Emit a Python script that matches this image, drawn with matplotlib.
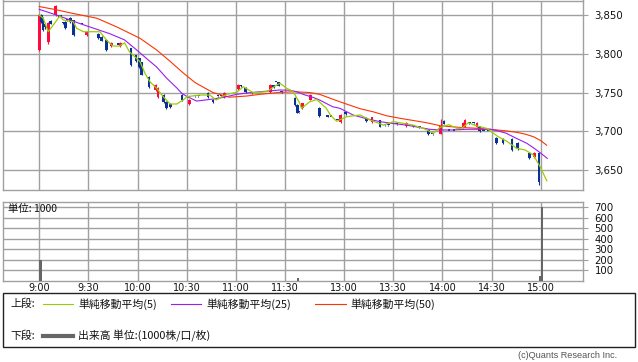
import matplotlib
matplotlib.use("Agg")
import matplotlib.pyplot as plt
from matplotlib.lines import Line2D
from matplotlib.patches import Rectangle
import numpy as np

plt.rcParams['font.family'] = ['DejaVu Sans', 'Noto Sans CJK JP']
JP = ['Noto Sans CJK JP', 'DejaVu Sans']

# ---- data (x = trading-minute index from 9:00, afternoon session starts at 156) ----
tick_pos = [0, 30, 60, 90, 120, 150, 186, 216, 246, 276, 306]
tick_labels = ["9:00", "9:30", "10:00", "10:30", "11:00", "11:30",
               "13:00", "13:30", "14:00", "14:30", "15:00"]

candle_m = [0, 1.2, 2.4, 3.6, 5.5, 7, 10, 11.5, 13, 14.5, 16, 17, 19, 21, 26, 29, 36, 38, 41, 44,
            48, 49.5, 56, 59, 61, 62.5, 67, 71, 72.5, 76, 77.5, 80, 87, 91.5, 95, 97, 103, 106, 109, 111,
            113, 121.5, 123, 126, 130, 141, 143, 144.5, 146, 148, 156, 157.5, 158.5, 160.5, 165.5, 171,
            176, 178, 182, 184, 187, 199.5, 203, 208, 211, 213, 218, 224, 228, 232, 237.5, 240, 245,
            247, 250, 253, 258.5, 259.7, 262.5, 265, 267, 268.7, 271, 274, 279, 283, 288.5, 292, 299,
            302, 305]
candle_o = [3805, 3850, 3846, 3838, 3815, 3842, 3850, 3849, 3849, 3840, 3841, 3843, 3846, 3843, 3839, 3824,
            3826, 3822, 3818, 3810, 3812, 3810, 3807, 3798, 3794, 3789, 3770, 3753, 3744, 3747, 3738, 3735,
            3747, 3735, 3745, 3745, 3750, 3741, 3745, 3745, 3744, 3754, 3760, 3756, 3749, 3751, 3760, 3764,
            3763, 3752, 3743, 3734, 3725, 3730, 3741, 3730, 3720, 3719, 3714.5, 3712, 3725, 3717, 3712, 3714,
            3708, 3708, 3709, 3707, 3707, 3705, 3702, 3696, 3697, 3713, 3701, 3701, 3705, 3706, 3711, 3711,
            3706, 3706, 3701, 3701, 3691, 3690, 3690, 3685, 3672, 3667, 3672]
candle_h = [3852, 3851, 3847, 3840, 3841, 3843, 3863, 3850, 3849, 3841, 3842, 3843, 3847, 3844, 3840, 3829,
            3827, 3823, 3819, 3815, 3812, 3815, 3808, 3799, 3795, 3790, 3771, 3761, 3757, 3748, 3739, 3736,
            3748, 3742, 3745, 3745, 3751, 3742, 3745, 3745, 3751, 3761, 3760, 3757, 3749, 3761, 3760, 3764,
            3764, 3752, 3744, 3735, 3725, 3737, 3748, 3731, 3720, 3719, 3715, 3722, 3725, 3718, 3719, 3715,
            3708, 3708, 3709, 3712, 3707, 3705, 3703, 3697, 3716, 3714, 3701, 3701, 3712, 3716, 3711, 3711,
            3712, 3707, 3701, 3701, 3692, 3691, 3691, 3686, 3673, 3673, 3673]
candle_l = [3803, 3840, 3830, 3832, 3813, 3838, 3849, 3848, 3848, 3839, 3832, 3842, 3840, 3823, 3838, 3823,
            3819, 3816, 3804, 3809, 3811, 3809, 3784, 3790, 3782, 3772, 3756, 3752, 3743, 3737, 3729, 3730,
            3739, 3734, 3744, 3744, 3743, 3737, 3744, 3744, 3743, 3753, 3757, 3750, 3748, 3750, 3756, 3763,
            3758, 3750, 3733, 3723, 3724, 3729, 3740, 3719, 3718, 3718, 3714, 3711, 3721, 3712, 3711, 3705,
            3707, 3707, 3708, 3706, 3706, 3704, 3695, 3695, 3696, 3709, 3700, 3700, 3704, 3705, 3710, 3710,
            3705, 3699, 3700, 3700, 3684, 3684, 3675, 3676, 3664, 3666, 3631]
candle_c = [3850, 3841, 3831, 3834, 3840, 3839, 3862, 3849, 3848.5, 3840, 3833, 3843, 3841, 3824, 3839, 3828,
            3820, 3817, 3805, 3814, 3812, 3814, 3785, 3791, 3783, 3773, 3757, 3760, 3756, 3738, 3730, 3731,
            3740, 3741, 3745, 3745, 3744, 3738, 3745, 3745, 3750, 3760, 3758, 3751, 3749, 3760, 3757, 3764,
            3759, 3751, 3734, 3724, 3725, 3736, 3747, 3720, 3719, 3719, 3714.5, 3721, 3722, 3713, 3718, 3706,
            3708, 3708, 3709, 3711, 3707, 3705, 3696, 3696, 3707, 3710, 3701, 3701, 3711, 3715, 3711, 3711,
            3711, 3700, 3701, 3701, 3685, 3685, 3676, 3677, 3665, 3672, 3634]

ma5_m = [0, 2.4, 5.5, 8.5, 12.6, 14.6, 20.7, 22.8, 26.9, 37, 41, 45, 49, 52, 55, 61.5, 64.5, 67.5, 71.6,
         75.7, 79.8, 83.9, 87.9, 90, 98, 104, 108, 114.4, 120.5, 124.5, 130.6, 138.8, 144.9, 147, 151,
         155, 159, 160, 165, 169.3, 175, 178, 181.5, 187.6, 195.7, 201.8, 210, 216, 222, 228, 234.4,
         240.5, 244.5, 250, 254.7, 257.8, 261.8, 267, 273, 280, 285, 291.3, 296.4, 301.5, 305.6, 309.7]
ma5_v = [3850, 3845.8, 3828.5, 3837, 3848.8, 3843.6, 3841.4, 3833, 3828.5, 3828.5, 3817.8, 3810, 3810,
         3814.3, 3802.7, 3789.8, 3774.8, 3764, 3755.5, 3744.6, 3735.2, 3735.2, 3740.4, 3744.6, 3746.8,
         3746.8, 3740.4, 3747.7, 3750.3, 3757.5, 3749.8, 3751.1, 3759.7, 3761.9, 3755.5, 3751, 3736,
         3729.6, 3738, 3741, 3730, 3720, 3713, 3718.8, 3721, 3714.6, 3708, 3712.4, 3710.3, 3708, 3703.8,
         3697.4, 3705, 3708.5, 3703.8, 3703.8, 3711, 3706.8, 3703.8, 3693, 3687.5, 3678, 3675.9, 3669.4,
         3654.3, 3636]

ma25_m = [0, 10.6, 24.8, 43, 52, 59.4, 66, 71.6, 78, 83.9, 87, 90, 96, 106, 113, 120.5, 127, 134.7, 147,
          153, 157, 162, 167, 171, 179, 183.5, 191.5, 200, 208, 216, 224, 238.4, 244.5, 252.5, 260.8,
          275, 280, 285, 291, 297.5, 302, 305.6, 310]
ma25_v = [3857.4, 3850, 3839, 3826, 3818, 3805, 3793, 3783, 3768, 3756, 3749, 3745, 3739, 3741.6, 3744,
          3747.7, 3749.5, 3751, 3753.3, 3753, 3751, 3747, 3743.8, 3740.4, 3731.7, 3729.6, 3721, 3716,
          3712.4, 3710, 3708, 3702.5, 3701.7, 3701.7, 3702.6, 3702.6, 3700.5, 3697.4, 3691, 3684.5,
          3678, 3672.4, 3665]

ma50_m = [0, 10, 20.8, 35, 47, 61.5, 71.6, 80, 88, 95, 100, 106, 116, 126.6, 134.7, 147, 156, 165, 171,
          183.5, 196, 204, 212, 220, 228, 236.4, 245, 256.7, 266, 275, 285, 291.3, 297, 301.5, 306, 309.6]
ma50_v = [3861, 3857, 3852, 3846, 3835, 3820, 3805, 3790, 3775, 3763, 3757, 3750, 3744, 3745.5, 3747.7,
          3750.3, 3751, 3750, 3747.7, 3738, 3729, 3725, 3720, 3716.8, 3714, 3711, 3707, 3705, 3704,
          3702.6, 3700.5, 3698.7, 3696, 3693, 3688, 3682]

vol_m = [0, 157, 305, 306]
vol_v = [195, 20, 40, 700]

price_ticks = [3650, 3700, 3750, 3800, 3850]
vol_ticks = [100, 200, 300, 400, 500, 600, 700]

# ---- figure ----
W, H = 638, 362
fig = plt.figure(figsize=(W / 100, H / 100), dpi=100)
GRID = '#a0a0a0'
XL = (-22.3, 331.6)

ax = fig.add_axes([2.7 / W, 1 - 190 / H, 580 / W, 189.5 / H])
axv = fig.add_axes([2.7 / W, 1 - 280.5 / H, 580 / W, 78.8 / H])

for a in (ax, axv):
    a.set_xlim(*XL)
    a.set_xticks(tick_pos)
    for s in a.spines.values():
        s.set_color(GRID)
        s.set_linewidth(1.0)
    a.grid(True, color=GRID, lw=1.0)
    a.set_axisbelow(True)
    a.yaxis.tick_right()
    a.tick_params(axis='y', direction='out', length=3.5, width=0.8, color=GRID,
                  labelsize=7.3, pad=5, labelcolor='#111')
    a.tick_params(axis='x', length=0)

ax.set_ylim(3624.2, 3868.8)
ax.set_yticks(price_ticks)
ax.set_yticklabels([f"{v:,}" for v in price_ticks])
ax.set_xticklabels([])

# candles
UP, DN = '#ff0a3c', '#0a3296'
o = np.array(candle_o, float); c = np.array(candle_c, float)
h = np.array(candle_h, float); l = np.array(candle_l, float)
cols = [UP if cc > oo else DN for oo, cc in zip(o, c)]
ax.vlines(candle_m, l, h, colors=cols, lw=0.8, zorder=3)
bottoms = np.minimum(o, c)
heights = np.maximum(np.abs(c - o), 1.4)
ax.bar(candle_m, heights, bottom=bottoms, width=1.6, color=cols, lw=0, zorder=3)

ax.plot(ma50_m, ma50_v, color='#ff3300', lw=0.8, zorder=4)
ax.plot(ma25_m, ma25_v, color='#9a1ef0', lw=0.8, zorder=4)
ax.plot(ma5_m, ma5_v, color='#9acd00', lw=0.9, zorder=5)

# volume
axv.set_ylim(0, 754)
axv.set_yticks(vol_ticks)
axv.set_yticklabels([str(v) for v in vol_ticks])
axv.tick_params(axis='y', pad=5)
axv.bar(vol_m, vol_v, width=1.4, align='edge', color='#666666', lw=0, zorder=3)
axv.set_xticklabels(tick_labels, fontsize=7.0, color='#111')
axv.tick_params(axis='x', pad=2)

fig.text(8 / W, 1 - 208.5 / H, "単位: 1000", fontsize=7.5, va='center', ha='left',
         family=JP, color='#111')

# legend box
fig.add_artist(Rectangle((2.7 / W, 1 - 346.7 / H), (635 - 2.7) / W, 53.4 / H,
                         transform=fig.transFigure, fill=False, ec='#222', lw=1.0))
y1 = 1 - 304 / H
y2 = 1 - 336 / H
FS = 7.8
fig.text(10 / W, y1, "上段:", fontsize=FS, va='center', family=JP, color='#111')
fig.text(10 / W, y2, "下段:", fontsize=FS, va='center', family=JP, color='#111')
items = [(43, 73, 78, '#9acd00', "単純移動平均(5)"),
         (171, 201, 206, '#9a1ef0', "単純移動平均(25)"),
         (315, 346, 350, '#ff3300', "単純移動平均(50)")]
for x0, x1, xt, col, lab in items:
    fig.add_artist(Line2D([x0 / W, x1 / W], [y1, y1], color=col, lw=0.8,
                          transform=fig.transFigure))
    fig.text(xt / W, y1, lab, fontsize=FS, va='center', family=JP, color='#111')
fig.add_artist(Line2D([43 / W, 73 / W], [y2, y2], color='#666666', lw=3,
                      transform=fig.transFigure))
fig.text(78 / W, y2, "出来高 単位:(1000株/口/枚)", fontsize=FS, va='center', family=JP, color='#111')

fig.text(617 / W, 1 - 356 / H, "(c)Quants Research Inc.", fontsize=6.6, ha='right', va='center',
         color='#555555', family=['Liberation Sans', 'DejaVu Sans'])

fig.savefig("out.png", dpi=100, facecolor='white')
